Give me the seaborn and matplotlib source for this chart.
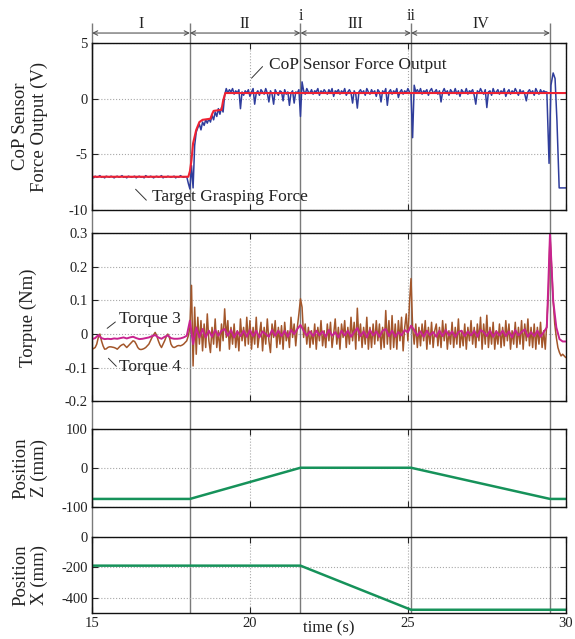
import numpy as np
import seaborn as sns
import matplotlib.pyplot as plt

# ---- data ----
# CoP sensor force output (V), sampled every 0.05 s from 15.0 s, then a hand-read tail
force_t0, force_dt = 15.0, 0.05
force_v = [
    -7.0, -7.1, -6.95, -7.05, -7.0, -6.9, -7.05, -7.0, -7.1, -6.95,
    -7.0, -7.05, -6.95, -7.0, -7.1, -7.0, -6.95, -7.05, -7.0, -6.9,
    -7.05, -7.0, -7.1, -6.95, -7.0, -7.05, -7.0, -6.95, -7.1, -7.0,
    -6.95, -7.05, -7.0, -7.1, -6.9, -7.0, -7.05, -6.95, -7.0, -7.1,
    -7.0, -6.95, -7.05, -7.0, -6.9, -7.1, -7.0, -7.05, -6.95, -7.0,
    -7.05, -7.0, -6.95, -7.1, -7.0, -7.05, -6.9, -7.0, -7.05, -7.0,
    -7.0, -7.6, -8.1, -6.0, -8.0, -4.2, -3.0, -2.6, -2.3, -2.8,
    -2.1, -2.4, -1.9, -2.2, -1.8, -2.1, -1.5, -1.9, -1.2, -1.6,
    -0.9, -1.4, -0.8, -1.2, 0.3, 0.9, 0.5, 0.8,
    0.6, 0.9, 0.4, 0.7, 0.5, 0.8, -0.9, 0.6, 0.3, 0.7,
    0.5, 0.8, 0.2, 0.6, 0.9, -0.5, 0.5, 0.7, 0.3, 0.8,
    0.6, 0.4, 0.9, 0.5, -0.3, 0.7, 0.4, -0.5, 0.8, 0.5,
    0.3, 0.7, 0.6, -0.2, 0.8, 0.4, 0.6, -0.6, 0.5, 0.7,
    -0.4, 0.6, 0.5, 0.8, -1.6, 1.5, 0.7, 0.4, 0.9, 0.6,
    0.5, 0.8, 0.4, 0.7, 0.6, 0.9, 0.3, 0.7, 0.5, 0.8,
    0.6, 0.4, 0.8, 0.5, 0.9, 0.2, 0.7, 0.6, 0.8, 0.4,
    0.7, 0.5, 0.9, 0.3, 0.6, 0.8, 0.5, -0.4, 0.7, 0.4,
    -0.85, 0.6, 0.8, 0.5, 0.7, 0.3, 0.9, 0.6, 0.4, 0.8,
    0.5, 0.7, 0.2, 0.8, 0.6, -0.3, 0.7, 0.5, 0.9, -0.6,
    0.6, 0.8, 0.4, 0.7, 0.5, 0.9, 0.1, 0.6, 0.8, 0.4,
    0.7, 0.5, 0.9, 0.6, 0.4, -3.5, 1.2, 0.6, 0.8, 0.5,
    0.9, 0.4, 0.7, 0.6, 0.8, 0.3, 0.7, 0.9, 0.5, 0.6,
    0.8, 0.4, 0.7, -0.3, 0.6, 0.9, 0.5, 0.7, 0.3, 0.8,
    0.6, 0.5, 0.9, 0.4, 0.7, 0.2, 0.8, 0.6, 0.5, 0.9,
    0.4, 0.7, 0.6, 0.8, 0.3, -0.5, 0.7, 0.5, 0.9, 0.6,
    0.4, 0.8, -0.8, 0.6, 0.7, 0.3, 0.9, 0.5, 0.6, 0.8,
    0.4, 0.7, 0.5, 0.9, 0.2, 0.6, 0.8, 0.4, 0.7, 0.5,
    0.9, 0.6, 0.3, 0.8, 0.5, 0.7, 0.4, -0.2, 0.6, 0.8,
    0.5, 0.7, 0.3, 0.9, 0.6, 0.4, 0.8, 0.5, 0.7, 0.6,
    0.6,
]
force_tail_t = [29.47, 29.53, 29.6, 29.66, 29.72, 29.79, 30.0]
force_tail_v = [-5.8, 1.2, 2.3, 1.8, -2.0, -8.0, -8.0]

# target grasping force (V)
target_t = [15.0, 18.05, 18.1, 18.15, 18.2, 18.3, 18.4, 18.5, 18.75, 18.8, 18.85, 19.1, 19.15, 19.22, 30.0]
target_v = [-7.0, -7.0, -6.5, -5.5, -4.0, -2.8, -2.1, -1.9, -1.8, -1.4, -1.1, -1.0, -0.2, 0.5, 0.5]

# torque 4 (Nm), every 0.05 s from 15.0 s
torque4_t0, torque4_dt = 15.0, 0.05
torque4_v = [
    -0.045, -0.043, -0.04, -0.03, -0.01, 0.0, -0.02, -0.035, -0.045, -0.044,
    -0.04, -0.038, -0.038, -0.039, -0.04, -0.042, -0.045, -0.04, -0.035, -0.032,
    -0.03, -0.035, -0.04, -0.035, -0.03, -0.025, -0.02, -0.022, -0.03, -0.04,
    -0.045, -0.046, -0.045, -0.043, -0.04, -0.035, -0.03, -0.02, -0.01, -0.002,
    0.005, -0.005, -0.02, -0.032, -0.04, -0.03, -0.02, -0.008, 0.0, -0.01,
    -0.03, -0.038, -0.04, -0.038, -0.035, -0.034, -0.035, -0.033, -0.03, -0.025,
    -0.02, -0.005, 0.02, 0.145, -0.095, 0.08, -0.06, 0.05, -0.03, 0.04,
    -0.05, 0.03, -0.04, 0.06, -0.02, -0.055, 0.02, -0.03, 0.045, -0.04,
    0.01, -0.05, 0.03, -0.02, 0.075, -0.01, 0.04, -0.045, 0.02, -0.03,
    0.03, -0.04, 0.01, -0.05, 0.045, -0.02, 0.02, -0.035, 0.05, -0.03,
    0.04, -0.045, 0.02, -0.03, 0.05, -0.04, 0.0, 0.035, -0.05, 0.02,
    -0.03, 0.045, -0.02, -0.055, 0.03, -0.01, 0.04, -0.04, 0.02, -0.03,
    0.025, -0.045, 0.035, -0.02, 0.01, -0.04, 0.05, -0.01, 0.03, -0.035,
    0.02, 0.06, 0.105, 0.08, -0.01, 0.03, -0.03, 0.02, -0.04, 0.01,
    -0.03, 0.03, -0.045, 0.02, -0.02, 0.04, -0.035, 0.01, -0.04, 0.03,
    -0.02, 0.035, -0.04, 0.0, 0.045, -0.03, 0.02, -0.045, 0.03, -0.01,
    0.04, -0.04, 0.02, -0.03, 0.05, -0.02, 0.035, -0.045, 0.077, -0.02,
    0.03, -0.04, 0.02, -0.03, 0.05, -0.045, 0.02, -0.04, 0.03, -0.03,
    0.04, -0.02, 0.03, -0.045, 0.02, -0.04, 0.07, -0.03, 0.04, -0.045,
    0.055, -0.04, 0.03, -0.045, 0.04, -0.02, 0.05, -0.05, 0.02, 0.06,
    -0.02, 0.09, 0.165, 0.02, -0.03, 0.03, -0.04, 0.02, -0.035, 0.03,
    -0.02, 0.04, -0.045, 0.02, -0.03, 0.035, -0.04, 0.01, 0.03, -0.035,
    0.02, -0.04, 0.04, -0.02, 0.03, -0.045, 0.01, -0.03, 0.035, -0.04,
    0.02, -0.03, 0.045, -0.04, 0.01, -0.035, 0.03, -0.045, 0.02, -0.02,
    0.04, -0.03, 0.02, -0.04, 0.03, -0.02, 0.05, -0.045, 0.03, -0.03,
    0.056, -0.04, 0.02, -0.03, 0.035, -0.045, 0.01, -0.03, 0.03, -0.04,
    0.02, -0.035, 0.04, -0.02, 0.03, -0.045, 0.01, -0.03, 0.035, -0.04,
    0.02, -0.03, 0.04, -0.045, 0.03, -0.02, 0.045, -0.035, 0.02, -0.04,
    0.03, -0.045, 0.02, -0.03, 0.035, -0.04, 0.01, -0.045, 0.04, 0.12,
    0.29, 0.2, 0.1, 0.03, -0.01, -0.04, -0.055, -0.065, -0.06, -0.065,
    -0.07,
]

# torque 3 (Nm), every 0.1 s from 15.0 s
torque3_t0, torque3_dt = 15.0, 0.1
torque3_v = [
    -0.015, -0.012, -0.003, -0.012, -0.015, -0.014, -0.015, -0.013, -0.014, -0.012,
    -0.01, -0.013, -0.01, -0.008, -0.012, -0.015, -0.014, -0.012, -0.01, -0.006,
    -0.003, -0.01, -0.014, -0.008, -0.004, -0.012, -0.014, -0.014, -0.013, -0.01,
    -0.005, 0.04, -0.03, 0.02, -0.01, 0.015, -0.01, 0.01, -0.008, 0.012,
    -0.005, 0.01, 0.015, -0.005, 0.012, -0.01, 0.008, -0.006, 0.01, -0.008,
    0.012, -0.006, 0.01, -0.01, 0.008, 0.0, -0.008, 0.012, -0.005, 0.01,
    -0.006, 0.01, -0.008, 0.012, 0.0, 0.015, 0.027, 0.01, -0.005, 0.008,
    -0.006, 0.01, -0.004, 0.008, -0.008, 0.012, -0.005, 0.006, -0.01, 0.01,
    -0.004, 0.01, -0.008, 0.006, 0.018, -0.006, 0.008, -0.01, 0.012, -0.004,
    0.008, -0.008, 0.01, 0.015, -0.006, 0.01, -0.008, 0.006, -0.004, 0.012,
    0.005, 0.025, 0.012, -0.005, 0.008, -0.008, 0.01, -0.004, 0.006, -0.008,
    0.01, -0.006, 0.012, -0.004, 0.008, -0.008, 0.006, 0.01, -0.006, 0.008,
    -0.004, 0.01, -0.008, 0.012, 0.006, -0.006, 0.01, -0.008, 0.008, -0.004,
    0.01, -0.006, 0.008, -0.01, 0.012, -0.004, 0.006, 0.014, -0.008, 0.006,
    -0.006, 0.01, -0.008, 0.006, 0.02, 0.3, 0.1, 0.02, -0.015, -0.022,
    -0.022,
]

# hand positions (mm)
posz_t = [15.0, 18.1, 21.6, 25.1, 29.5, 30.0]
posz_v = [-80, -80, 0, 0, -80, -80]
posx_t = [15.0, 21.6, 25.1, 30.0]
posx_v = [-190, -190, -480, -480]

# phase boundaries and names
phase_t = [15.0, 18.1, 21.6, 25.1, 29.5]
phase_names = ["I", "II", "III", "IV"]
event_t = [21.6, 25.1]
event_names = ["i", "ii"]

force_t = np.concatenate([force_t0 + force_dt * np.arange(len(force_v)), force_tail_t])
force_all = np.concatenate([force_v, force_tail_v])
torque4_t = torque4_t0 + torque4_dt * np.arange(len(torque4_v))
torque3_t = torque3_t0 + torque3_dt * np.arange(len(torque3_v))

sns.set_style("ticks")
plt.rcParams["font.family"] = ["Liberation Serif", "DejaVu Serif"]
plt.rcParams["axes.unicode_minus"] = False

txt = "#222222"
fig = plt.figure(figsize=(5.75, 6.39), dpi=100)
L, W = 0.160, 0.824

# overlay for the phase lines and arrows
ov = fig.add_axes([L, 0.0407, W, 0.9233], zorder=0)
ov.set_xlim(15, 30)
ov.set_ylim(0, 1)
ov.axis("off")
ov.vlines(phase_t, 0, 1, color="#7a7a7a", lw=1.0, clip_on=False)
for a, b, name in zip(phase_t[:-1], phase_t[1:], phase_names):
    ov.annotate("", xy=(b, 0.983), xytext=(a, 0.983),
                arrowprops=dict(arrowstyle="<->", lw=0.8, color="#555555",
                                shrinkA=0, shrinkB=0, mutation_scale=8),
                annotation_clip=False)
    ov.text((a + b) / 2, 0.998, name, ha="center", va="center", fontsize=11.5, color=txt)
for t, name in zip(event_t, event_names):
    ov.text(t, 1.012, name, ha="center", va="center", fontsize=11.5, color=txt)

ax1 = fig.add_axes([L, 0.671, W, 0.262], zorder=1)
ax2 = fig.add_axes([L, 0.372, W, 0.263], zorder=1)
ax3 = fig.add_axes([L, 0.207, W, 0.122], zorder=1)
ax4 = fig.add_axes([L, 0.041, W, 0.119], zorder=1)

sns.lineplot(x=force_t, y=force_all, ax=ax1, color="#2f3d9c", lw=1.1, estimator=None, sort=False)
sns.lineplot(x=target_t, y=target_v, ax=ax1, color="#ee2233", lw=1.5, estimator=None, sort=False)
sns.lineplot(x=torque4_t, y=torque4_v, ax=ax2, color="#a3562a", lw=1.1, estimator=None, sort=False)
sns.lineplot(x=torque3_t, y=torque3_v, ax=ax2, color="#c8238f", lw=1.4, estimator=None, sort=False)
sns.lineplot(x=posz_t, y=posz_v, ax=ax3, color="#16925a", lw=1.8, estimator=None, sort=False)
sns.lineplot(x=posx_t, y=posx_v, ax=ax4, color="#16925a", lw=1.8, estimator=None, sort=False)

ax1.set_ylim(-10, 5)
ax1.set_yticks([-10, -5, 0, 5])
ax2.set_ylim(-0.2, 0.3)
ax2.set_yticks([-0.2, -0.1, 0, 0.1, 0.2, 0.3])
ax2.set_yticklabels(["-0.2", "-0.1", "0", "0.1", "0.2", "0.3"])
ax3.set_ylim(-100, 100)
ax3.set_yticks([-100, 0, 100])
ax4.set_ylim(-500, 0)
ax4.set_yticks([-400, -200, 0])

labels = ["CoP Sensor\nForce Output (V)", "Torpue (Nm)", "Position\nZ (mm)", "Position\nX (mm)"]
label_x = [-0.131, -0.134, -0.13, -0.13]
for ax, lab, lx in zip([ax1, ax2, ax3, ax4], labels, label_x):
    ax.set_facecolor("none")
    ax.set_xlim(15, 30)
    ax.set_xticks([15, 20, 25, 30])
    ax.grid(True, linestyle=":", color="#a8a8a8", linewidth=0.8)
    ax.set_axisbelow(True)
    ax.tick_params(direction="in", top=True, right=True, length=4, width=0.8,
                   labelsize=10.5, labelcolor=txt, pad=3)
    for s in ax.spines.values():
        s.set_visible(True)
        s.set_linewidth(1.0)
        s.set_color("#111111")
    ax.set_xlabel("")
    ax.set_ylabel(lab, fontsize=13.5, color=txt, linespacing=1.1)
    ax.yaxis.label.set_va("center")
    ax.yaxis.set_label_coords(lx, 0.5)
    if ax is not ax4:
        ax.tick_params(labelbottom=False)

ax4.set_xlabel("time (s)", fontsize=12, color=txt, va="top")
ax4.xaxis.set_label_coords(0.5, -0.1)

# callouts
ax1.text(20.6, 3.02, "CoP Sensor Force Output", ha="left", va="center", fontsize=12.5, color=txt)
ax1.plot([20.4, 20.05], [2.87, 1.83], color="#333333", lw=0.7)
ax1.text(16.9, -8.84, "Target Grasping Force", ha="left", va="center", fontsize=12.5, color=txt)
ax1.plot([16.38, 16.72], [-8.12, -9.1], color="#333333", lw=0.7)
ax2.text(15.85, 0.044, "Torque 3", ha="left", va="center", fontsize=12.5, color=txt)
ax2.plot([15.48, 15.74], [0.017, 0.036], color="#333333", lw=0.7)
ax2.text(15.85, -0.098, "Torque 4", ha="left", va="center", fontsize=12.5, color=txt)
ax2.plot([15.52, 15.77], [-0.072, -0.096], color="#333333", lw=0.7)

plt.savefig("out.png", dpi=100)
